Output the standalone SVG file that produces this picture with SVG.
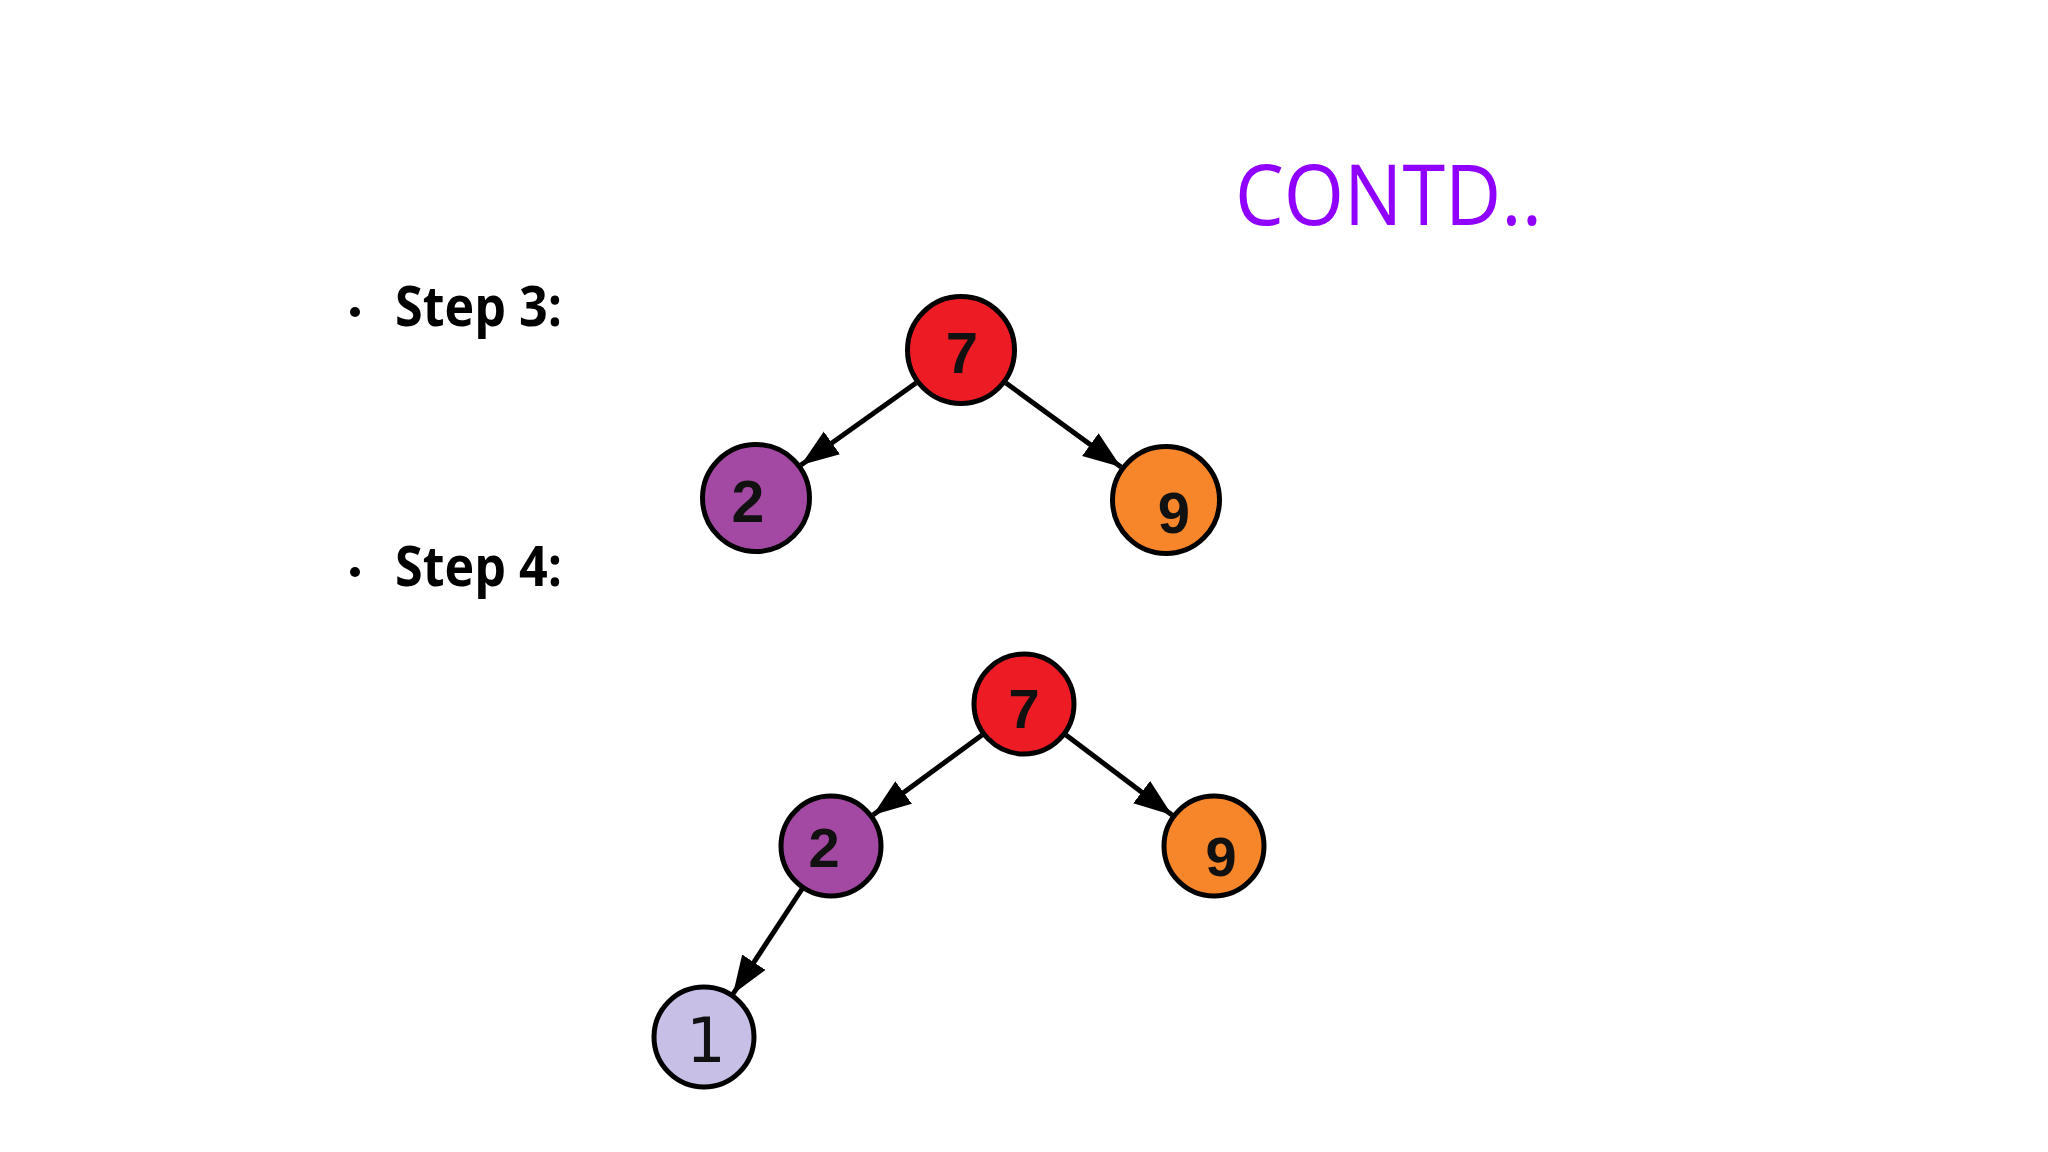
<svg xmlns="http://www.w3.org/2000/svg" width="2048" height="1152" viewBox="0 0 2048 1152">
<defs>
<marker id="arr" markerUnits="userSpaceOnUse" markerWidth="40" markerHeight="30" refX="38" refY="14" orient="auto">
<path d="M0,0 L38,14 L0,28 Z" fill="#000"/>
</marker>
<style>
.n{stroke:#000;stroke-width:5}
.e{stroke:#000;stroke-width:5;fill:none;marker-end:url(#arr)}
.d{font-family:"Liberation Sans",Arial,sans-serif;font-weight:bold;fill:#111;text-anchor:middle}
.s{font-family:"Open Sans","Liberation Sans",sans-serif;font-weight:bold;font-size:56px;fill:#000}
</style>
</defs>
<rect width="2048" height="1152" fill="#fff"/>
<text x="1235" y="225" font-family="'Open Sans','Liberation Sans',sans-serif" font-size="84" fill="#9000FF" textLength="307" lengthAdjust="spacingAndGlyphs">CONTD..</text>
<g id="bullets">
<circle cx="355" cy="312" r="5" fill="#000"/>
<text class="s" x="395" y="326" textLength="167" lengthAdjust="spacingAndGlyphs">Step 3:</text>
<circle cx="355" cy="572" r="5" fill="#000"/>
<text class="s" x="395" y="586" textLength="167" lengthAdjust="spacingAndGlyphs">Step 4:</text>
</g>
<g id="connectors">
<line class="e" x1="916" y1="383" x2="801" y2="465"/>
<line class="e" x1="1006" y1="383" x2="1121" y2="467"/>
<line class="e" x1="982" y1="735" x2="873" y2="815"/>
<line class="e" x1="1066" y1="735" x2="1172" y2="815"/>
<line class="e" x1="802" y1="889" x2="733" y2="994"/>
</g>
<g id="t1-7"><circle class="n" cx="961" cy="350" r="53.5" fill="#ED1C24"/><text class="d" x="962" y="373" font-size="58">7</text></g>
<g id="t1-2"><circle class="n" cx="756" cy="498" r="53.5" fill="#A349A4"/><text class="d" x="748" y="522" font-size="59">2</text></g>
<g id="t1-9"><circle class="n" cx="1166" cy="500" r="53.5" fill="#F7862A"/><text class="d" x="1174" y="533" font-size="58">9</text></g>
<g id="t2-7"><circle class="n" cx="1024" cy="704" r="50" fill="#ED1C24"/><text class="d" x="1024" y="728" font-size="56">7</text></g>
<g id="t2-2"><circle class="n" cx="831" cy="846" r="50" fill="#A349A4"/><text class="d" x="824" y="867" font-size="56">2</text></g>
<g id="t2-9"><circle class="n" cx="1214" cy="846" r="50" fill="#F7862A"/><text class="d" x="1221" y="876" font-size="56">9</text></g>
<g id="t2-1"><circle class="n" cx="704" cy="1037" r="50" fill="#C8BFE7"/><text x="706" y="1062" font-family="'DejaVu Sans','Liberation Sans',sans-serif" font-size="62" fill="#111" text-anchor="middle">1</text></g>
</svg>
